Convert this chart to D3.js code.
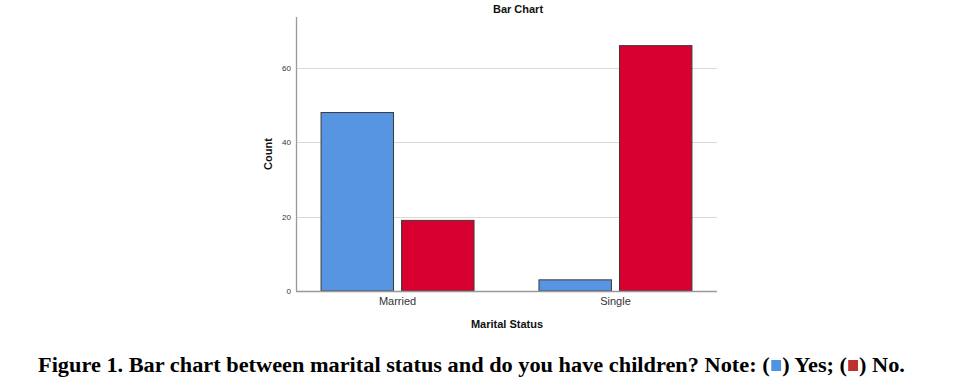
<!DOCTYPE html>
<html>
<head>
<meta charset="utf-8">
<script src="https://cdn.jsdelivr.net/npm/d3@7"></script>
<style>
  body { margin: 0; background: #fff; }
  svg { display: block; }
</style>
</head>
<body>
<svg width="958" height="389"></svg>
<script>
// data
var categories = ["Married", "Single"];
var seriesNames = ["Yes", "No"];
var yesCounts = [48, 3];
var noCounts = [19, 66];
var yTicks = [0, 20, 40, 60];

var svg = d3.select("svg"),
    plotLeft = 296, plotRight = 717, plotTop = 17, plotBottom = 291;

var colors = { Yes: "#5795e2", No: "#d7002e" };

var rows = categories.map(function(c, i) {
  return { cat: c, Yes: yesCounts[i], No: noCounts[i] };
});

var x0 = d3.scaleBand().domain(categories).range([plotLeft, plotRight]).paddingInner(0.298).paddingOuter(0.115);
var x1 = d3.scaleBand().domain(seriesNames).range([0, x0.bandwidth()]).paddingInner(0.1);
var y = d3.scaleLinear().domain([0, 73.7]).range([plotBottom, plotTop]);

// grid
svg.append("g").selectAll("line")
  .data(yTicks.slice(1))
  .enter().append("line")
    .attr("x1", plotLeft).attr("x2", plotRight)
    .attr("y1", function(d) { return Math.round(y(d)) + 0.5; })
    .attr("y2", function(d) { return Math.round(y(d)) + 0.5; })
    .attr("stroke", "#d9d9d9").attr("stroke-width", 1.2);

// bars
var grp = svg.append("g").selectAll("g")
  .data(rows)
  .enter().append("g")
    .attr("transform", function(d) { return "translate(" + x0(d.cat) + ",0)"; });

grp.selectAll("rect")
  .data(function(d) { return seriesNames.map(function(s) { return { s: s, v: d[s] }; }); })
  .enter().append("rect")
    .attr("x", function(d) { return x1(d.s); })
    .attr("y", function(d) { return y(d.v); })
    .attr("width", x1.bandwidth())
    .attr("height", function(d) { return y(0) - y(d.v); })
    .attr("fill", function(d) { return colors[d.s]; })
    .attr("stroke", "#3a3a3a").attr("stroke-width", 1);

// y axis
var yAxis = svg.append("g")
  .attr("transform", "translate(" + plotLeft + ",0)")
  .call(d3.axisLeft(y).tickValues(yTicks).tickSize(0).tickPadding(5));
yAxis.select(".domain").remove();
yAxis.selectAll("text").attr("font-family", "Arial, 'Liberation Sans', sans-serif")
  .attr("font-size", 8).attr("fill", "#333");
svg.append("line").attr("x1", plotLeft + 0.5).attr("x2", plotLeft + 0.5).attr("y1", plotTop).attr("y2", plotBottom)
  .attr("stroke", "#999").attr("stroke-width", 1.3);

// x axis
var xAxis = svg.append("g")
  .attr("transform", "translate(0," + plotBottom + ")")
  .call(d3.axisBottom(x0).tickSize(0).tickPadding(6));
xAxis.select(".domain").remove();
xAxis.selectAll("text").attr("font-family", "Arial, 'Liberation Sans', sans-serif")
  .attr("font-size", 11).attr("fill", "#333");
svg.append("line").attr("x1", plotLeft).attr("x2", plotRight).attr("y1", plotBottom + 0.5).attr("y2", plotBottom + 0.5)
  .attr("stroke", "#999").attr("stroke-width", 1.3);

// titles
svg.append("text").attr("x", 518).attr("y", 13).attr("text-anchor", "middle")
  .attr("font-family", "Arial, 'Liberation Sans', sans-serif").attr("font-weight", "bold")
  .attr("font-size", 11).attr("fill", "#111").text("Bar Chart");
svg.append("text").attr("x", 507).attr("y", 328).attr("text-anchor", "middle")
  .attr("font-family", "Arial, 'Liberation Sans', sans-serif").attr("font-weight", "bold")
  .attr("font-size", 11).attr("fill", "#111").text("Marital Status");
svg.append("text").attr("transform", "translate(272,154) rotate(-90)").attr("text-anchor", "middle")
  .attr("font-family", "Arial, 'Liberation Sans', sans-serif").attr("font-weight", "bold")
  .attr("font-size", 11).attr("fill", "#111").text("Count");

// caption with little colour keys, stretched to the reference width
var capParts = ["Figure 1. Bar chart between marital status and do you have children? Note: (", "Yes", ") Yes; (", "No", ") No."];
var capStart = 38, capEnd = 905, capY = 372;
var cap = svg.append("g");
var capX = 0;
capParts.forEach(function(p) {
  if (p === "Yes" || p === "No") {
    cap.append("rect").attr("x", capX + 1).attr("y", capY - 12).attr("width", 9).attr("height", 11)
      .attr("fill", p === "Yes" ? "#4f93e3" : "#c0302f");
    capX += 11;
  } else {
    var t = cap.append("text").attr("x", capX).attr("y", capY)
      .attr("font-family", "'Liberation Serif', 'Times New Roman', serif").attr("font-weight", "bold")
      .attr("font-size", 20.5).attr("fill", "#000").style("white-space", "pre").text(p);
    capX += t.node().getComputedTextLength();
  }
});
var sx = (capEnd - capStart) / capX;
cap.attr("transform", "translate(" + capStart + ",0) scale(" + sx + ",1)");
</script>
</body>
</html>
